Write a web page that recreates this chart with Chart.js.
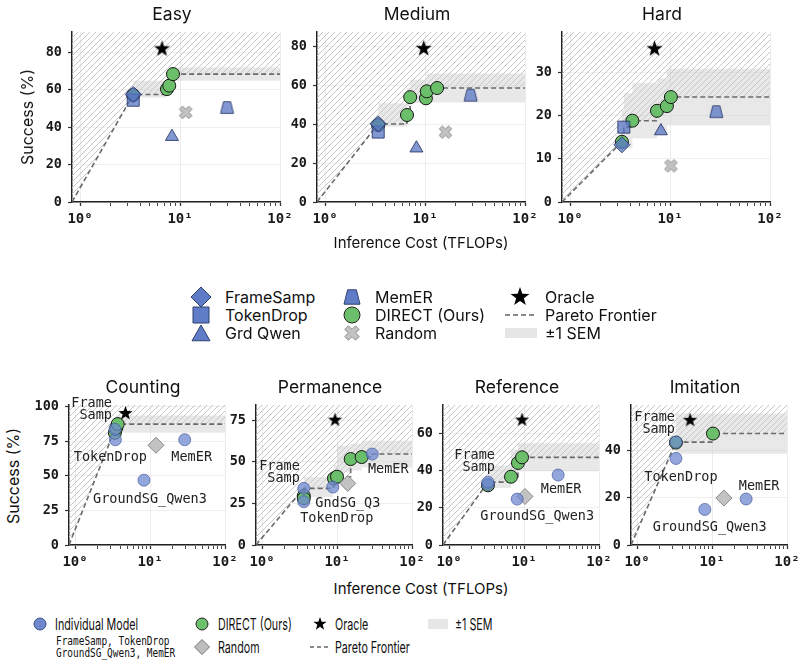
<!DOCTYPE html>
<html>
<head>
<meta charset="utf-8">
<script src="https://cdn.jsdelivr.net/npm/chart.js@4.4.1/dist/chart.umd.min.js"></script>
<style>
  body { margin: 0; background: #fff; }
  #page { position: relative; width: 805px; height: 670px; overflow: hidden; font-family: Inter, "Noto Sans", sans-serif; color: #111; }
  #page canvas, #page svg { position: absolute; }
  .t { position: absolute; white-space: pre; line-height: 1; }
  .mono { font-family: "DejaVu Sans Mono", monospace; }
</style>
</head>
<body>
<div id="page"></div>
<script>
// axis limits and ticks
const X_MIN = 0.83, X_MAX = 100;
const xTickValues = [1, 2, 3, 4, 5, 6, 7, 8, 9, 10, 20, 30, 40, 50, 60, 70, 80, 90, 100];
const decadeLabels = { 1: "10⁰", 10: "10¹", 100: "10²" };

const topPanels = ["Easy", "Medium", "Hard"];
const yMaxTop = [91, 87.5, 39.5];
const yStepTop = [20, 20, 10];
const bottomPanels = ["Counting", "Permanence", "Reference", "Imitation"];
const yMaxBottom = [101, 84, 75, 59];
const yStepBottom = [25, 25, 20, 20];

// [cost (TFLOPs), success (%), SEM], one entry per panel
const frameSampTop = [[3.4, 57.6, 4.5], [3.4, 40.2, 7.5], [3.3, 13.3, 2]];
const tokenDropTop = [[3.4, 54.5, 4.5], [3.4, 36, 7], [3.45, 17.4, 4]];
const grdQwenTop = [[8.3, 35, 4], [8.2, 27.7, 6], [8.1, 16.5, 5]];
const memerTop = [[29.5, 50.6, 4], [28.6, 55, 6], [29, 21, 5]];
const randomTop = [[11.4, 48], [16, 36], [10.2, 8.4]];
const oracleTop = [[6.6, 82], [9.7, 79], [7.0, 35.6]];
const directEasy = [[3.4, 57.3, 4.5], [7.4, 60.5, 4.5], [7.8, 62.3, 4.5], [8.5, 68.5, 3.5]];
const directMedium = [[3.4, 39.6, 7], [6.6, 44.8, 6], [7.1, 54, 5], [10.2, 53.4, 6], [10.4, 57, 6], [13.2, 58.7, 7.5]];
const directHard = [[3.3, 14, 2], [4.2, 18.9, 6.4], [7.4, 21.2, 6.4], [9.3, 22.3, 6.4], [10.2, 24.4, 6.6]];

const frameSampBot = [[3.4, 83.5, 6], [3.6, 34, 6], [3.3, 33.7, 8], [3.3, 43.4, 9]];
const tokenDropBot = [[3.45, 76, 6], [3.6, 26, 6], [3.3, 32.5, 7], [3.3, 36.5, 8]];
const groundSGBot = [[8.3, 46.8, 6], [8.8, 34.8, 6], [8.1, 24.6, 6], [8.0, 15, 6]];
const memerBot = [[29, 76, 6], [29.5, 54.6, 8], [28.5, 37.5, 6], [28.5, 19.4, 6]];
const randomBot = [[12, 72], [13.9, 37], [10.3, 26], [14.4, 19.8]];
const oracleBot = [[4.7, 95], [9.4, 75], [9.4, 67], [5.1, 52.6]];
const directCounting = [[3.4, 81, 6], [3.55, 84.5, 6], [3.7, 87.3, 6.2]];
const directPermanence = [[3.6, 29.5, 6], [3.6, 28, 6], [9.1, 40, 6], [10, 41, 7], [15.2, 51.6, 8], [21.3, 52.8, 8]];
const directReference = [[3.3, 32, 7], [6.7, 36.6, 6], [8.3, 44, 7], [9.4, 47, 7.5]];
const directImitation = [[3.3, 43.2, 9], [10.3, 47, 8.5]];

// point annotations in bottom row: [text, model index, dx, dy, align]
const notesBottom = [
  [["Frame\nSamp", 0, -3, -21, "right"], ["TokenDrop", 1, -5, 17, "center"], ["GroundSG_Qwen3", 2, 6, 19, "center"], ["MemER", 3, 7, 17, "center"]],
  [["Frame\nSamp", 0, -4, -17, "right"], ["TokenDrop", 1, 33, 16, "center"], ["GndSG_Q3", 2, 15, 16, "center"], ["MemER", 3, 16, 15, "center"]],
  [["Frame\nSamp", 0, 7, -22, "right"], ["GroundSG_Qwen3", 2, 20, 17, "center"], ["MemER", 3, 3, 14, "center"]],
  [["Frame\nSamp", 0, -1, -20, "right"], ["TokenDrop", 1, 5, 19, "center"], ["GroundSG_Qwen3", 2, 5, 18, "center"], ["MemER", 3, 13, -13, "center"]]
];

const BLUE = "rgba(88,117,196,0.75)";
const BLUE_EDGE = "rgba(38,52,100,0.85)";
const BLUE_B = "rgba(112,138,208,0.75)";
const BLUE_B_EDGE = "rgba(70,90,160,0.7)";
const GREEN = "#6cbf6a";
const GREEN_EDGE = "#161616";
const GREY = "#c2c2c2";
const GREY_EDGE = "#8a8a8a";
const BAND = "rgba(205,205,205,0.45)";

const page = document.getElementById("page");

function hatchPattern() {
  const s = 6, c = document.createElement("canvas");
  c.width = s; c.height = s;
  const g = c.getContext("2d");
  g.strokeStyle = "#c6c6c6"; g.lineWidth = 1;
  g.beginPath();
  g.moveTo(0, s); g.lineTo(s, 0);
  g.moveTo(-1, 1); g.lineTo(1, -1);
  g.moveTo(s - 1, s + 1); g.lineTo(s + 1, s - 1);
  g.stroke();
  return g.createPattern(c, "repeat");
}
const HATCH = hatchPattern();

// marker shapes
function starPts(R) {
  const p = [];
  for (let i = 0; i < 10; i++) {
    const r = i % 2 ? R * 0.4 : R;
    const a = -Math.PI / 2 + i * Math.PI / 5;
    p.push([r * Math.cos(a), r * Math.sin(a)]);
  }
  return p;
}
function xPts(R) {
  const w = R * 0.32, L = R * 0.95;
  const base = [[w, L], [w, w], [L, w], [L, -w], [w, -w], [w, -L], [-w, -L], [-w, -w], [-L, -w], [-L, w], [-w, w], [-w, L]];
  const c = Math.SQRT1_2;
  return base.map(([x, y]) => [(x - y) * c, (x + y) * c]);
}
function trapPts(R) {
  return [[-0.55 * R, -R * 0.9], [0.55 * R, -R * 0.9], [R, R * 0.9], [-R, R * 0.9]];
}
function diamondPts(R) { return [[0, -R], [R, 0], [0, R], [-R, 0]]; }
function squarePts(R) { return [[-R, -R], [R, -R], [R, R], [-R, R]]; }
function trianglePts(R) { return [[0, -R], [R, R * 0.75], [-R, R * 0.75]]; }

function polyCanvas(pts, fill, stroke, lw) {
  const m = Math.max(...pts.map(p => Math.max(Math.abs(p[0]), Math.abs(p[1]))));
  const size = Math.ceil(2 * m + 2 * lw + 2);
  const c = document.createElement("canvas");
  c.width = size; c.height = size;
  const g = c.getContext("2d");
  g.translate(size / 2, size / 2);
  g.beginPath();
  pts.forEach((p, i) => i ? g.lineTo(p[0], p[1]) : g.moveTo(p[0], p[1]));
  g.closePath();
  g.fillStyle = fill; g.fill();
  if (stroke) { g.strokeStyle = stroke; g.lineWidth = lw; g.stroke(); }
  return c;
}

function svgPoly(pts, cx, cy, fill, stroke, lw) {
  const pad = 12;
  const el = document.createElementNS("http://www.w3.org/2000/svg", "svg");
  el.setAttribute("width", 2 * pad); el.setAttribute("height", 2 * pad);
  el.style.left = (cx - pad) + "px"; el.style.top = (cy - pad) + "px";
  const p = document.createElementNS("http://www.w3.org/2000/svg", "polygon");
  p.setAttribute("points", pts.map(q => (q[0] + pad) + "," + (q[1] + pad)).join(" "));
  p.setAttribute("fill", fill);
  if (stroke) { p.setAttribute("stroke", stroke); p.setAttribute("stroke-width", lw); }
  el.appendChild(p);
  page.appendChild(el);
}
function svgCircle(cx, cy, r, fill, stroke) {
  const el = document.createElementNS("http://www.w3.org/2000/svg", "svg");
  el.setAttribute("width", 24); el.setAttribute("height", 24);
  el.style.left = (cx - 12) + "px"; el.style.top = (cy - 12) + "px";
  el.innerHTML = `<circle cx="12" cy="12" r="${r}" fill="${fill}" stroke="${stroke}" stroke-width="1"/>`;
  page.appendChild(el);
}

function put(text, x, y, css, cls, anchor) {
  const d = document.createElement("div");
  d.className = "t " + (cls || "");
  d.textContent = text;
  Object.assign(d.style, css || {});
  d.style.left = x + "px"; d.style.top = y + "px";
  d.style.transform = anchor || "translate(-50%,-50%)";
  page.appendChild(d);
  return d;
}

function frontier(points) {
  const pts = points.slice().sort((a, b) => a[0] - b[0] || b[1] - a[1]);
  const out = [];
  let best = -Infinity;
  for (const p of pts) if (p[1] > best) { out.push(p); best = p[1]; }
  return out;
}
function stepLine(front) {
  const d = [{ x: X_MIN, y: 0 }];
  front.forEach((p, i) => {
    if (i > 0) d.push({ x: p[0], y: front[i - 1][1] });
    d.push({ x: p[0], y: p[1] });
  });
  d.push({ x: X_MAX, y: front[front.length - 1][1] });
  return d;
}
function bandLine(front, sign) {
  const d = front.map(p => ({ x: p[0], y: p[1] + sign * p[2] }));
  const last = front[front.length - 1];
  d.push({ x: X_MAX, y: last[1] + sign * last[2] });
  return d;
}
const pt = p => ({ x: p[0], y: p[1] });

function panel(cfg) {
  const padL = 46, padT = 14, padR = 18, padB = 28;
  const cv = document.createElement("canvas");
  cv.width = cfg.w + padL + padR;
  cv.height = cfg.h + padT + padB;
  cv.style.left = (cfg.x - padL) + "px";
  cv.style.top = (cfg.y - padT) + "px";
  page.appendChild(cv);

  const front = frontier(cfg.models.map(m => m.data).concat(cfg.direct));
  const none = "rgba(0,0,0,0)";
  const datasets = [
    { type: "line", data: stepLine(front), fill: "end", backgroundColor: HATCH, borderColor: none, borderWidth: 0, pointRadius: 0, order: 9 },
    { type: "line", data: bandLine(front, 1), stepped: "after", borderColor: none, borderWidth: 0, pointRadius: 0, fill: false, order: 8 },
    { type: "line", data: bandLine(front, -1), stepped: "after", borderColor: none, borderWidth: 0, pointRadius: 0, fill: "-1", backgroundColor: BAND, order: 7 },
    { type: "line", data: stepLine(front), borderColor: "#6a6a6a", borderWidth: 1.6, borderDash: [5, 3], pointRadius: 0, fill: false, order: 6 },
    { data: cfg.direct.map(pt), pointStyle: "circle", pointRadius: cfg.dotR, backgroundColor: GREEN, borderColor: GREEN_EDGE, borderWidth: 1, order: 5 },
    { data: [pt(cfg.random)], pointStyle: cfg.randomStyle, pointRadius: 8, backgroundColor: GREY, borderColor: GREY_EDGE, borderWidth: 1, order: 4 }
  ];
  cfg.models.forEach(m => datasets.push({
    data: [pt(m.data)], pointStyle: m.style, pointRadius: m.r,
    backgroundColor: m.fill, borderColor: m.edge, borderWidth: 1, order: 3
  }));
  datasets.push({ data: [pt(cfg.oracle)], pointStyle: cfg.star, order: 1 });

  const xFont = { family: "DejaVu Sans Mono", size: 14, weight: "bold" };
  const yFont = { family: "DejaVu Sans Mono", size: 13.5, weight: "bold" };
  const chart = new Chart(cv, {
    type: "scatter",
    data: { datasets: datasets },
    options: {
      responsive: false,
      animation: false,
      events: [],
      layout: { padding: { top: padT, right: padR, left: 0, bottom: 0 } },
      plugins: { legend: { display: false }, tooltip: { enabled: false } },
      scales: {
        x: {
          type: "logarithmic", min: X_MIN, max: X_MAX, bounds: "data",
          afterBuildTicks: s => { s.ticks = xTickValues.map(v => ({ value: v, major: v in decadeLabels })); },
          afterFit: s => { s.height = padB; },
          ticks: { autoSkip: false, maxRotation: 0, padding: 5, color: "#1a1a1a", font: xFont, callback: v => decadeLabels[v] || "" },
          grid: {
            color: c => (c.tick && c.tick.major) ? "#ececec" : none,
            tickColor: "#333", tickLength: 4,
            tickWidth: c => (c.tick && c.tick.major) ? 1.3 : 0.9
          },
          border: { color: "#222", width: 1.5 }
        },
        y: {
          min: 0, max: cfg.yMax,
          afterFit: s => { s.width = padL; },
          ticks: { stepSize: cfg.yStep, includeBounds: false, padding: 6, color: "#1a1a1a", font: yFont },
          grid: { color: "#efefef", tickColor: "#333", tickLength: 4, tickWidth: 1.2 },
          border: { color: "#222", width: 1.5 }
        }
      }
    }
  });

  // titles
  put(cfg.title, cfg.x + cfg.w / 2 - 4, cfg.y - 18, { fontSize: "17.5px" });

  // annotations next to points
  const xs = chart.scales.x, ys = chart.scales.y;
  (cfg.notes || []).forEach(([text, mi, dx, dy, align]) => {
    const p = cfg.models[mi].data;
    const px = cfg.x - padL + xs.getPixelForValue(p[0]) + dx;
    const py = cfg.y - padT + ys.getPixelForValue(p[1]) + dy;
    const anchor = align === "right" ? "translate(-100%,-50%)" : "translate(-50%,-50%)";
    put(text, px, py, { fontSize: "13.5px", lineHeight: "11.5px", textAlign: align, color: "#222" }, "mono", anchor);
  });
  return chart;
}

// ---- top row ----
const topGeom = [72, 317, 562];
const topStar = polyCanvas(starPts(8.5), "#000", null, 0);
const trapImg = polyCanvas(trapPts(6.5), BLUE, BLUE_EDGE, 1);
const xImg = polyCanvas(xPts(7), GREY, GREY_EDGE, 1);
const directTop = [directEasy, directMedium, directHard];
topPanels.forEach((name, i) => {
  panel({
    title: name, x: topGeom[i], y: 32, w: 208, h: 170,
    yMax: yMaxTop[i], yStep: yStepTop[i],
    direct: directTop[i], dotR: 6.5,
    random: randomTop[i], randomStyle: xImg,
    oracle: oracleTop[i], star: topStar,
    models: [
      { data: frameSampTop[i], style: "rectRot", r: 8, fill: BLUE, edge: BLUE_EDGE },
      { data: tokenDropTop[i], style: "rect", r: 8.5, fill: BLUE, edge: BLUE_EDGE },
      { data: grdQwenTop[i], style: "triangle", r: 7.5, fill: BLUE, edge: BLUE_EDGE },
      { data: memerTop[i], style: trapImg, r: 7, fill: BLUE, edge: BLUE_EDGE }
    ]
  });
});

// ---- bottom row ----
const botGeom = [69, 256, 443, 631];
const botStar = polyCanvas(starPts(7.5), "#000", null, 0);
const directBot = [directCounting, directPermanence, directReference, directImitation];
bottomPanels.forEach((name, i) => {
  panel({
    title: name, x: botGeom[i], y: 405, w: 156, h: 140,
    yMax: yMaxBottom[i], yStep: yStepBottom[i],
    direct: directBot[i], dotR: 6.5,
    random: randomBot[i], randomStyle: "rectRot",
    oracle: oracleBot[i], star: botStar,
    notes: notesBottom[i],
    models: [
      { data: frameSampBot[i], style: "circle", r: 6, fill: BLUE_B, edge: BLUE_B_EDGE },
      { data: tokenDropBot[i], style: "circle", r: 6, fill: BLUE_B, edge: BLUE_B_EDGE },
      { data: groundSGBot[i], style: "circle", r: 6, fill: BLUE_B, edge: BLUE_B_EDGE },
      { data: memerBot[i], style: "circle", r: 6, fill: BLUE_B, edge: BLUE_B_EDGE }
    ]
  });
});

// axis titles
put("Success (%)", 27, 117, { fontSize: "16px" }, "", "translate(-50%,-50%) rotate(-90deg)");
put("Success (%)", 13, 476, { fontSize: "16px" }, "", "translate(-50%,-50%) rotate(-90deg)");
put("Inference Cost (TFLOPs)", 421, 242, { fontSize: "15px" });
put("Inference Cost (TFLOPs)", 421, 588, { fontSize: "15px" });

// ---- top legend ----
const lg = { fontSize: "16px" };
const lgA = "translate(0,-50%)";
svgPoly(diamondPts(10), 201, 297, "#5f7cc6", "#2f416f", 1);
svgPoly(squarePts(8), 201, 315, "#5f7cc6", "#2f416f", 1);
svgPoly(trianglePts(9), 201, 334, "#5f7cc6", "#2f416f", 1);
put("FrameSamp", 225, 297, lg, "", lgA);
put("TokenDrop", 225, 315, lg, "", lgA);
put("Grd Qwen", 225, 333, lg, "", lgA);
svgPoly(trapPts(8), 352, 297, "#5f7cc6", "#2f416f", 1);
svgCircle(352, 315, 8, GREEN, "#222");
svgPoly(xPts(8), 352, 333, GREY, GREY_EDGE, 1);
put("MemER", 375, 297, lg, "", lgA);
put("DIRECT (Ours)", 375, 315, lg, "", lgA);
put("Random", 375, 333, lg, "", lgA);
svgPoly(starPts(10), 520, 297, "#000", null, 0);
const dash1 = document.createElementNS("http://www.w3.org/2000/svg", "svg");
dash1.setAttribute("width", 34); dash1.setAttribute("height", 6);
dash1.style.left = "504px"; dash1.style.top = "312px";
dash1.innerHTML = '<line x1="1" y1="3" x2="33" y2="3" stroke="#666" stroke-width="1.6" stroke-dasharray="5,3"/>';
page.appendChild(dash1);
const sem1 = document.createElement("div");
Object.assign(sem1.style, { position: "absolute", left: "505px", top: "328px", width: "32px", height: "10px", background: "#e6e6e6" });
page.appendChild(sem1);
put("Oracle", 545, 297, lg, "", lgA);
put("Pareto Frontier", 545, 315, lg, "", lgA);
put("±1 SEM", 545, 333, lg, "", lgA);

// ---- bottom legend ----
const lb = { fontSize: "16.5px", transformOrigin: "0 50%" };
const lbA = "translate(0,-50%) scaleX(0.65)";
svgCircle(40, 624, 6, "#6f88cc", "#3c4f86");
put("Individual Model", 55, 624, lb, "", lbA);
put("FrameSamp, TokenDrop", 56, 642, { fontSize: "11.5px", transformOrigin: "0 50%" }, "mono", "translate(0,-50%) scaleX(0.82)");
put("GroundSG_Qwen3, MemER", 56, 654, { fontSize: "11.5px", transformOrigin: "0 50%" }, "mono", "translate(0,-50%) scaleX(0.82)");
svgCircle(202, 624, 6, GREEN, "#222");
put("DIRECT (Ours)", 218, 624, lb, "", lbA);
svgPoly(diamondPts(7.5), 202, 647, "#bdbdbd", "#777", 1);
put("Random", 218, 647, lb, "", lbA);
svgPoly(starPts(7), 320, 624, "#000", null, 0);
put("Oracle", 335, 624, lb, "", lbA);
const dash2 = document.createElementNS("http://www.w3.org/2000/svg", "svg");
dash2.setAttribute("width", 22); dash2.setAttribute("height", 6);
dash2.style.left = "309px"; dash2.style.top = "644px";
dash2.innerHTML = '<line x1="1" y1="3" x2="21" y2="3" stroke="#666" stroke-width="1.4" stroke-dasharray="4,3"/>';
page.appendChild(dash2);
put("Pareto Frontier", 335, 647, lb, "", lbA);
const sem2 = document.createElement("div");
Object.assign(sem2.style, { position: "absolute", left: "428px", top: "619px", width: "20px", height: "10px", background: "#e6e6e6" });
page.appendChild(sem2);
put("±1 SEM", 455, 624, lb, "", lbA);
</script>
</body>
</html>
